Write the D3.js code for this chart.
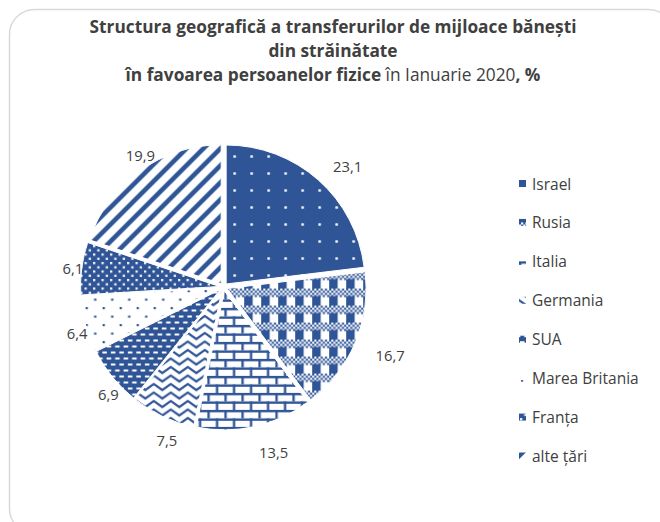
<!DOCTYPE html>
<html>
<head>
<meta charset="utf-8">
<script src="https://cdn.jsdelivr.net/npm/d3@7/dist/d3.min.js"></script>
<style>
  html, body { margin: 0; padding: 0; background: #ffffff; }
  svg { display: block; }
</style>
</head>
<body>
<svg id="chart" width="660" height="522"></svg>
<script>
// Remittances from abroad to individuals, January 2020, by country of origin (%)
const categories = ["Israel", "Rusia", "Italia", "Germania", "SUA", "Marea Britania", "Franța", "alte țări"];
const values = [23.1, 16.7, 13.5, 7.5, 6.9, 6.4, 6.1, 19.9];
const patternIds = ["p-dots-inv", "p-plaid", "p-brick", "p-zigzag", "p-dash", "p-dots", "p-dots-dense", "p-diag"];

const titleLines = [
  [{ t: "Structura geografică a transferurilor de mijloace bănești", b: true }],
  [{ t: "din străinătate", b: true }],
  [{ t: "în favoarea persoanelor fizice", b: true }, { t: " în Ianuarie 2020", b: false }, { t: ", %", b: true }]
];

const BLUE = "#2f5597";
const TEXT = "#404040";
const FONT = "'Open Sans', Lato, sans-serif";

const svg = d3.select("#chart");
const defs = svg.append("defs");

// ---- fill patterns (8-pixel motifs scaled to a 17px tile) ----
const S = 17, H = S / 2, u = S / 8;

function pat(id, w, h) {
  return defs.append("pattern").attr("id", id)
    .attr("patternUnits", "userSpaceOnUse")
    .attr("width", w).attr("height", h);
}

// white dots on blue, sparse grid
{
  const p = pat("p-dots-inv", S, S);
  p.append("rect").attr("width", S).attr("height", S).attr("fill", BLUE);
  p.append("rect").attr("x", H - 1.2).attr("y", H - 1.2).attr("width", 2.4).attr("height", 2.4).attr("fill", "#fff");
}
// plaid: fine checker band + row of blocks
{
  const p = pat("p-plaid", S, S);
  p.append("rect").attr("width", S).attr("height", S).attr("fill", "#fff");
  for (let r = 0; r < 4; r++) {
    for (let c = 0; c < 8; c++) {
      if ((r + c) % 2 === 0) p.append("rect").attr("x", c * u).attr("y", r * u).attr("width", u).attr("height", u).attr("fill", BLUE);
    }
  }
  p.append("rect").attr("x", 0).attr("y", H - 1).attr("width", H).attr("height", H + 1).attr("fill", BLUE);
}
// horizontal brick
{
  const p = pat("p-brick", S, S);
  p.append("rect").attr("width", S).attr("height", S).attr("fill", "#fff");
  const lw = 2.4;
  p.append("rect").attr("x", 0).attr("y", 0).attr("width", S).attr("height", lw).attr("fill", BLUE);
  p.append("rect").attr("x", 0).attr("y", H).attr("width", S).attr("height", lw).attr("fill", BLUE);
  p.append("rect").attr("x", 0).attr("y", 0).attr("width", lw).attr("height", H).attr("fill", BLUE);
  p.append("rect").attr("x", H).attr("y", H).attr("width", lw).attr("height", H).attr("fill", BLUE);
}
// zigzag
{
  const p = pat("p-zigzag", S, H);
  p.append("rect").attr("width", S).attr("height", H).attr("fill", "#fff");
  p.append("path").attr("d", `M-2,${-1.5} L${H},${H * 0.7} L${S + 2},${-1.5} M-2,${H - 1.5} L${H},${H * 1.7} L${S + 2},${H - 1.5}`)
    .attr("fill", "none").attr("stroke", BLUE).attr("stroke-width", 2.2);
}
// short white dashes on blue
{
  const p = pat("p-dash", H, 12);
  p.append("rect").attr("width", H).attr("height", 12).attr("fill", BLUE);
  p.append("rect").attr("x", 1).attr("y", 2).attr("width", 4.5).attr("height", 2).attr("fill", "#fff");
  p.append("rect").attr("x", 5.25).attr("y", 8).attr("width", 4.5).attr("height", 2).attr("fill", "#fff");
  p.append("rect").attr("x", 5.25 - H).attr("y", 8).attr("width", 4.5).attr("height", 2).attr("fill", "#fff");
}
// blue dots on white, sparse
{
  const p = pat("p-dots", S, S);
  p.append("rect").attr("width", S).attr("height", S).attr("fill", "#fff");
  p.append("rect").attr("x", 2).attr("y", 2).attr("width", 2.2).attr("height", 2.2).attr("fill", BLUE);
  p.append("rect").attr("x", 2 + H).attr("y", 2 + H).attr("width", 2.2).attr("height", 2.2).attr("fill", BLUE);
}
// white dots on blue, dense
{
  const p = pat("p-dots-dense", H, H);
  p.append("rect").attr("width", H).attr("height", H).attr("fill", BLUE);
  p.append("rect").attr("x", 1).attr("y", 1).attr("width", 2.2).attr("height", 2.2).attr("fill", "#fff");
  p.append("rect").attr("x", 1 + H / 2).attr("y", 1 + H / 2).attr("width", 2.2).attr("height", 2.2).attr("fill", "#fff");
}
// wide upward diagonal
{
  const p = pat("p-diag", S, S);
  p.append("rect").attr("width", S).attr("height", S).attr("fill", "#fff");
  p.append("path").attr("d", `M-2,${S + 2} L${S + 2},-2 M-2,2 L2,-2 M${S - 2},${S + 2} L${S + 2},${S - 2}`)
    .attr("stroke", BLUE).attr("stroke-width", 4.6).attr("fill", "none");
}

// ---- frame ----
svg.append("rect")
  .attr("x", 9.5).attr("y", 9.5).attr("width", 664).attr("height", 524)
  .attr("rx", 25).attr("ry", 25)
  .attr("fill", "#fff").attr("stroke", "#d9d9d9").attr("stroke-width", 1.5);

// ---- title ----
const title = svg.append("text")
  .attr("text-anchor", "middle")
  .attr("font-family", FONT).attr("font-size", 17.3).attr("fill", TEXT);
titleLines.forEach((line, i) => {
  const tl = title.append("tspan").attr("x", 333).attr("y", 33 + i * 24);
  line.forEach(seg => {
    tl.append("tspan").attr("font-weight", seg.b ? "bold" : "normal").text(seg.t);
  });
});

// ---- pie ----
const cx = 223.5, cy = 287, R = 139, explode = 4;
const pie = d3.pie().sort(null).value(d => d);
const arcs = pie(values);
const arc = d3.arc().innerRadius(0).outerRadius(R);
const fmt = d3.formatLocale({ decimal: ",", thousands: " ", grouping: [3], currency: ["", ""] }).format(".1f");

const g = svg.append("g").attr("transform", `translate(${cx},${cy})`);
g.selectAll("path.slice")
  .data(arcs)
  .join("path")
  .attr("class", "slice")
  .attr("d", arc)
  .attr("transform", d => {
    const m = (d.startAngle + d.endAngle) / 2;
    return `translate(${Math.sin(m) * explode},${-Math.cos(m) * explode})`;
  })
  .attr("fill", (d, i) => `url(#${patternIds[i]})`)
  .attr("stroke", "#fff").attr("stroke-width", 1);

// data labels on an outer ring, shifted a little to the right of the pie centre
const labelR = 166, lcx = cx + 14, lcy = cy + 3;
svg.append("g").selectAll("text")
  .data(arcs)
  .join("text")
  .attr("x", d => lcx + Math.sin((d.startAngle + d.endAngle) / 2) * labelR)
  .attr("y", d => lcy - Math.cos((d.startAngle + d.endAngle) / 2) * labelR)
  .attr("text-anchor", "middle")
  .attr("dominant-baseline", "central")
  .attr("font-family", FONT).attr("font-size", 14.8).attr("fill", TEXT)
  .text(d => fmt(d.data));

// ---- legend ----
const ly = d3.scalePoint().domain(categories).range([183.5, 456]);
const leg = svg.append("g").selectAll("g")
  .data(categories)
  .join("g")
  .attr("transform", d => `translate(519,${ly(d)})`);
leg.append("rect")
  .attr("x", 0).attr("y", -3.5).attr("width", 7).attr("height", 7)
  .attr("fill", (d, i) => `url(#${patternIds[i]})`);
leg.append("text")
  .attr("x", 13).attr("y", 0)
  .attr("dominant-baseline", "central")
  .attr("font-family", FONT).attr("font-size", 15.5).attr("fill", TEXT)
  .text(d => d);
</script>
</body>
</html>
